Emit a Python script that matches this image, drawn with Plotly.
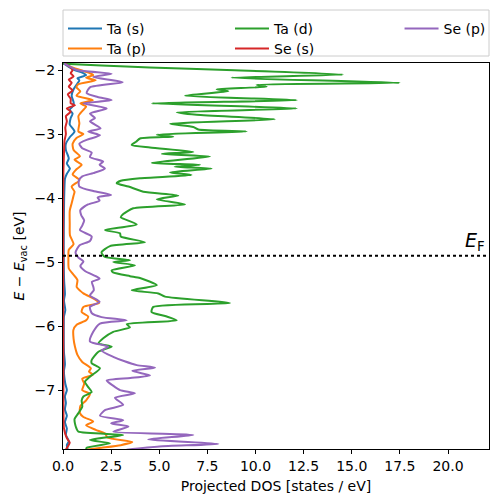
import plotly.graph_objects as go

# ---------------- data ----------------
ta_d_energy = [-1.90, -1.93, -1.96, -2.00, -2.07, -2.12, -2.20, -2.23, -2.26, -2.30, -2.33, -2.40, -2.47, -2.52,
               -2.60, -2.66, -2.70, -2.77, -2.84, -2.89, -2.93, -2.96, -3.01, -3.04, -3.07, -3.12, -3.17, -3.21,
               -3.28, -3.31, -3.35, -3.45, -3.48, -3.51, -3.54, -3.60, -3.64, -3.69, -3.73, -3.77, -3.82, -3.90,
               -3.96, -4.02, -4.10, -4.16, -4.25, -4.30, -4.41, -4.50, -4.55, -4.60, -4.69, -4.75, -4.85, -4.92,
               -4.97, -5.00, -5.05, -5.13, -5.16, -5.22, -5.25, -5.36, -5.44, -5.49, -5.54, -5.64, -5.70, -5.78,
               -5.85, -5.91, -5.97, -6.02, -6.09, -6.19, -6.27, -6.32, -6.40, -6.53, -6.58, -6.66, -6.79, -6.87,
               -6.95, -7.03, -7.10, -7.16, -7.26, -7.36, -7.45, -7.52, -7.60, -7.65, -7.70, -7.78, -7.83, -7.90, -7.93]
ta_d_dos = [0.0, 2.0, 4.5, 8.5, 14.55, 8.76, 17.5, 10.06, 10.58, 7.98, 8.59, 6.34, 12.14, 4.61,
            12.14, 5.91, 6.95, 11.01, 5.56, 6.77, 7.03, 9.54, 4.87, 5.73, 4.0, 3.8, 3.57, 4.52,
            6.77, 5.13, 7.64, 4.61, 7.12, 5.8, 7.72, 5.56, 6.68, 4.0, 3.0, 2.79, 3.4, 4.17,
            5.99, 4.87, 6.34, 3.65, 3.13, 3.0, 3.83, 2.18, 2.96, 3.0, 4.26, 2.44, 2.0, 2.18,
            3.48, 2.61, 3.74, 2.53, 2.6, 3.48, 4.0, 4.87, 3.57, 4.95, 5.3, 8.68, 4.69, 4.6,
            5.39, 5.91, 3.31, 3.48, 2.61, 2.09, 1.84, 2.53, 1.84, 1.49, 1.49, 1.92, 1.40, 1.14,
            1.3, 1.49, 1.06, 0.97, 1.0, 0.80, 0.6, 0.62, 0.7, 0.80, 3.13, 1.40, 2.44, 1.23, 1.2]

se_p_energy = [-1.90, -1.92, -2.00, -2.06, -2.11, -2.19, -2.27, -2.36, -2.42, -2.47, -2.52, -2.60, -2.68, -2.75,
               -2.80, -2.91, -2.96, -3.02, -3.09, -3.15, -3.22, -3.29, -3.36, -3.43, -3.48, -3.54, -3.61, -3.66,
               -3.73, -3.82, -3.89, -3.95, -3.99, -4.04, -4.10, -4.19, -4.27, -4.35, -4.43, -4.50, -4.60, -4.67,
               -4.74, -4.85, -4.93, -4.99, -5.06, -5.14, -5.22, -5.26, -5.31, -5.38, -5.44, -5.52, -5.62, -5.70,
               -5.80, -5.86, -5.91, -5.96, -6.09, -6.24, -6.32, -6.38, -6.48, -6.55, -6.61, -6.65, -6.70, -6.77,
               -6.81, -6.85, -6.93, -7.00, -7.05, -7.12, -7.23, -7.31, -7.40, -7.47, -7.52, -7.57, -7.65, -7.70,
               -7.77, -7.84, -7.88, -7.93]
se_p_dos = [0.05, 0.19, 0.71, 2.53, 1.57, 3.1, 1.4, 1.23, 1.8, 2.53, 1.06, 2.27, 1.40, 1.66,
            1.4, 1.95, 1.31, 1.92, 1.23, 0.85, 1.0, 1.49, 1.4, 2.09, 1.9, 2.18, 1.57, 1.0,
            0.82, 0.85, 1.57, 2.5, 1.8, 1.9, 1.3, 0.9, 0.95, 1.1, 1.0, 0.88, 1.49, 1.40,
            0.85, 0.65, 0.8, 1.06, 0.9, 1.14, 1.7, 1.9, 1.5, 1.57, 1.6, 1.4, 1.9, 1.4,
            1.5, 2.0, 3.31, 1.92, 1.57, 1.40, 2.35, 2.0, 2.61, 3.2, 3.83, 4.78, 3.6, 4.52,
            3.5, 2.27, 2.6, 2.96, 3.74, 2.7, 3.13, 2.2, 1.92, 3.13, 2.5, 3.4, 2.61, 6.77,
            4.43, 8.07, 5.0, 3.3]

ta_p_energy = [-1.90, -1.95, -2.00, -2.05, -2.08, -2.12, -2.16, -2.22, -2.27, -2.33, -2.40, -2.47, -2.52, -2.57,
               -2.64, -2.72, -2.83, -2.96, -3.00, -3.06, -3.15, -3.25, -3.35, -3.40, -3.48, -3.55, -3.63, -3.72,
               -3.82, -3.90, -3.96, -4.08, -4.20, -4.40, -4.58, -4.72, -4.81, -4.95, -5.10, -5.18, -5.28, -5.39,
               -5.45, -5.49, -5.59, -5.64, -5.70, -5.78, -5.85, -5.91, -5.98, -6.06, -6.20, -6.32, -6.45, -6.56,
               -6.66, -6.71, -6.76, -6.82, -6.90, -7.00, -7.06, -7.16, -7.25, -7.36, -7.42, -7.49, -7.55, -7.62,
               -7.68, -7.74, -7.81, -7.86, -7.90, -7.93]
ta_p_dos = [0.1, 0.4, 0.9, 1.4, 1.57, 1.2, 1.7, 0.8, 0.7, 0.9, 0.7, 1.55, 0.9, 1.2,
            1.0, 0.8, 0.85, 0.8, 1.06, 0.7, 0.5, 0.55, 0.88, 0.6, 0.97, 0.7, 0.5, 0.85,
            0.45, 0.6, 0.55, 0.45, 0.35, 0.35, 0.36, 0.55, 0.3, 0.28, 0.3, 0.5, 0.75, 0.71,
            0.9, 1.06, 1.7, 1.88, 1.06, 0.97, 1.31, 1.2, 0.71, 0.54, 0.55, 0.62, 0.75, 1.0,
            1.45, 1.35, 1.55, 1.0, 1.1, 1.0, 1.4, 1.2, 0.9, 0.88, 1.06, 1.57, 1.2, 1.7,
            2.2, 2.3, 3.6, 3.0, 2.0, 1.2]

ta_s_energy = [-1.90, -1.95, -2.00, -2.04, -2.08, -2.13, -2.16, -2.21, -2.30, -2.40, -2.50, -2.55, -2.62, -2.68,
               -2.75, -2.85, -2.96, -3.05, -3.15, -3.25, -3.38, -3.46, -3.54, -3.62, -3.70, -3.80, -4.00, -4.50,
               -5.00, -5.30, -5.50, -5.60, -5.75, -5.85, -6.00, -6.40, -6.60, -6.70, -6.90, -7.00, -7.10, -7.20,
               -7.30, -7.40, -7.50, -7.60, -7.70, -7.80, -7.86, -7.93]
ta_s_dos = [0.05, 0.3, 0.6, 1.0, 1.2, 0.75, 0.85, 0.75, 0.55, 0.45, 0.55, 0.55, 0.35, 0.5,
            0.4, 0.35, 0.6, 0.35, 0.15, 0.15, 0.3, 0.2, 0.36, 0.2, 0.1, 0.08, 0.06, 0.04,
            0.04, 0.06, 0.1, 0.05, 0.12, 0.05, 0.04, 0.05, 0.1, 0.05, 0.12, 0.2, 0.1, 0.15,
            0.1, 0.2, 0.1, 0.2, 0.15, 0.3, 0.2, 0.25]

se_s_energy = [-1.90, -1.95, -2.00, -2.05, -2.10, -2.15, -2.20, -2.26, -2.32, -2.38, -2.45, -2.52, -2.55, -2.60,
               -2.65, -2.72, -2.80, -2.90, -3.00, -3.10, -3.30, -3.60, -4.00, -7.00, -7.60, -7.75, -7.82, -7.88, -7.93]
se_s_dos = [0.1, 0.35, 0.5, 0.4, 0.55, 0.3, 0.45, 0.3, 0.5, 0.25, 0.4, 0.4, 0.62, 0.2,
            0.4, 0.15, 0.2, 0.12, 0.15, 0.08, 0.05, 0.02, 0.01, 0.02, 0.05, 0.2, 0.35, 0.25, 0.15]

fermi_energy = -4.9
x_ticks = [0.0, 2.5, 5.0, 7.5, 10.0, 12.5, 15.0, 17.5, 20.0]
x_tick_labels = ["0.0", "2.5", "5.0", "7.5", "10.0", "12.5", "15.0", "17.5", "20.0"]
y_ticks = [-7, -6, -5, -4, -3, -2]
y_tick_labels = ["\u22127", "\u22126", "\u22125", "\u22124", "\u22123", "\u22122"]

# name, energies, dos, colour, legend slot
series = [
    ("Ta (s)", ta_s_energy, ta_s_dos, "#1f77b4", "legend"),
    ("Ta (p)", ta_p_energy, ta_p_dos, "#ff7f0e", "legend2"),
    ("Ta (d)", ta_d_energy, ta_d_dos, "#2ca02c", "legend3"),
    ("Se (s)", se_s_energy, se_s_dos, "#d62728", "legend4"),
    ("Se (p)", se_p_energy, se_p_dos, "#9467bd", "legend5"),
]

FONT = "DejaVu Sans"

fig = go.Figure()
for name, en, dos, color, leg in series:
    fig.add_trace(go.Scatter(
        x=dos, y=en, mode="lines", name=name, legend=leg,
        line=dict(color=color, width=2, shape="spline", smoothing=0.6),
    ))

fig.add_trace(go.Scatter(
    x=[0, 22.2], y=[fermi_energy, fermi_energy], mode="lines", showlegend=False,
    line=dict(color="black", width=2, dash="dot"),
))

fig.add_annotation(
    x=22.05, y=fermi_energy, xref="x", yref="y", text="<i>E</i><sub>F</sub>",
    showarrow=False, xanchor="right", yanchor="bottom", yshift=0,
    font=dict(size=19, color="black", family=FONT),
)

# legend frame (the legend entries sit inside it)
fig.add_shape(type="rect", xref="paper", yref="paper", x0=0, x1=1, y0=1.0181, y1=1.1373,
              line=dict(color="#cccccc", width=1), fillcolor="white", layer="below")

axis_common = dict(
    showline=True, linecolor="black", linewidth=1, mirror=True,
    ticks="outside", ticklen=4, tickcolor="black", tickwidth=1,
    showgrid=False, zeroline=False,
    tickfont=dict(size=14, color="black", family=FONT),
)

def leg(x, y):
    return dict(
        orientation="v", yanchor="top", xanchor="left", x=x, y=y,
        bgcolor="rgba(0,0,0,0)", borderwidth=0, itemwidth=34,
        font=dict(size=14, color="black", family=FONT),
    )

row1, row2 = 1.1295, 1.0777
col1, col2, col3 = 0.0, 0.392, 0.79

fig.update_layout(
    width=498, height=502,
    # the page body adds an 8px offset; margins compensate for it
    margin=dict(l=55, r=17, t=55, b=61, autoexpand=False),
    plot_bgcolor="white", paper_bgcolor="white",
    font=dict(family=FONT, color="black", size=14),
    showlegend=True,
    xaxis=dict(range=[0, 22.13], tickvals=x_ticks, ticktext=x_tick_labels,
               title=dict(text="Projected DOS [states / eV]", font=dict(size=14), standoff=8),
               **axis_common),
    yaxis=dict(range=[-7.92, -1.89], tickvals=y_ticks, ticktext=y_tick_labels,
               title=dict(text="<i>E</i> \u2212 <i>E</i><sub>vac</sub> [eV]", font=dict(size=14), standoff=6),
               **axis_common),
    legend=leg(col1, row1),
    legend2=leg(col1, row2),
    legend3=leg(col2, row1),
    legend4=leg(col2, row2),
    legend5=leg(col3, row1),
)

fig.write_html("out.html")
